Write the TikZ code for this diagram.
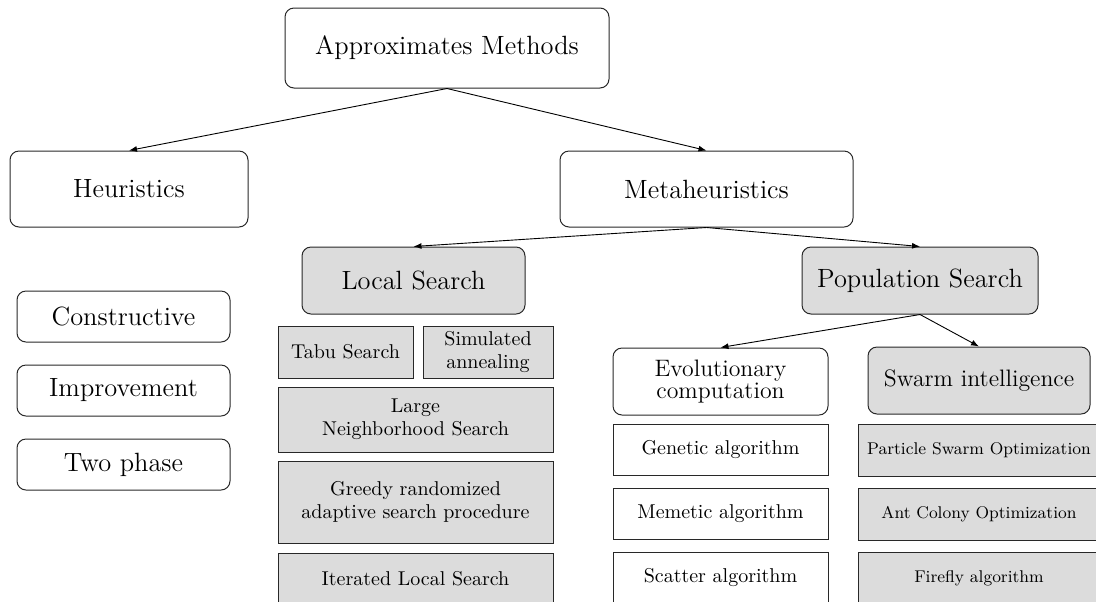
\documentclass[tikz,border=0pt]{standalone}
\usetikzlibrary{arrows.meta}
\definecolor{boxgray}{RGB}{220,220,220}
\definecolor{edge}{RGB}{40,40,40}
\newcommand\fbig{\fontsize{13.2}{15}\selectfont}
\newcommand\fmid{\fontsize{11.9}{11.2}\selectfont}
\newcommand\fnorm{\fontsize{10}{11.6}\selectfont}
\newcommand\fsml{\fontsize{8.5}{10}\selectfont}
\tikzset{
  sz/.style 2 args={minimum width={#1*0.5pt}, minimum height={#2*0.5pt}},
  base/.style={draw=edge, line width=0.5pt, inner sep=0pt, align=center},
  rbox/.style={base, rounded corners=4.5pt, fill=white},
  gbox/.style={base, rounded corners=4.5pt, fill=boxgray},
  wrect/.style={base, fill=white},
  grect/.style={base, fill=boxgray},
  arr/.style={-{Latex[length=4pt,width=3pt]}, line width=0.45pt, black},
}
\begin{document}
\begin{tikzpicture}[x=0.5pt, y=-0.5pt]
\useasboundingbox (0,0) rectangle (1096,601);
\clip (0,0) rectangle (1096,601);

% top levels
\node[rbox, sz={324}{80}, font=\fbig] (approx) at (447,48) {Approximates Methods};
\node[rbox, sz={238}{76}, font=\fbig] (heur) at (129,189) {Heuristics};
\node[rbox, sz={293}{76}, font=\fbig] (meta) at (706.5,189) {Metaheuristics};

% heuristics list
\node[rbox, sz={213}{51}, font=\fbig] (cons) at (123.5,316.5) {Constructive};
\node[rbox, sz={213}{51}, font=\fbig] (impr) at (123.5,390.5) {Improvement};
\node[rbox, sz={213}{51}, font=\fbig] (two) at (123.5,464.5) {Two phase};

% metaheuristics
\node[gbox, sz={223}{67}, font=\fbig] (local) at (413.5,280.5) {Local Search};
\node[gbox, sz={236}{67}, font=\fbig] (pop) at (920,280.5) {Population Search};

% local search methods
\node[grect, sz={135}{52}, font=\fnorm] (tabu) at (345.5,352) {Tabu Search};
\node[grect, sz={130}{52}, font=\fnorm] (sa) at (488,352) {Simulated\\annealing};
\node[grect, sz={275}{65}, font=\fnorm] (lns) at (415.5,419.5) {Large\\Neighborhood Search};
\node[grect, sz={275}{82}, font=\fnorm] (grasp) at (415.5,502) {Greedy randomized\\adaptive search procedure};
\node[grect, sz={275}{52}, font=\fnorm] (ils) at (415.5,579) {Iterated Local Search};

% population search
\node[rbox, sz={215}{67}, font=\fmid] (evo) at (720.5,381.5) {Evolutionary\\computation};
\node[gbox, sz={222}{67}, font=\fmid] (swarm) at (979,380.5) {Swarm intelligence};

\node[wrect, sz={215}{51}, font=\fnorm] (ga) at (720.5,449.5) {Genetic algorithm};
\node[wrect, sz={215}{51}, font=\fnorm] (ma) at (720.5,513.5) {Memetic algorithm};
\node[wrect, sz={215}{51}, font=\fnorm] (sc) at (720.5,577.5) {Scatter algorithm};

\node[grect, sz={242}{52}, font=\fsml] (pso) at (979,450) {Particle Swarm Optimization};
\node[grect, sz={242}{52}, font=\fsml] (aco) at (979,514) {Ant Colony Optimization};
\node[grect, sz={242}{52}, font=\fsml] (ff) at (979,578) {Firefly algorithm};

% connectors
\draw[arr] (approx.south) -- (heur.north);
\draw[arr] (approx.south) -- (meta.north);
\draw[arr] (meta.south) -- (local.north);
\draw[arr] (meta.south) -- (pop.north);
\draw[arr] (pop.south) -- (evo.north);
\draw[arr] (pop.south) -- (swarm.north);
\end{tikzpicture}
\end{document}
